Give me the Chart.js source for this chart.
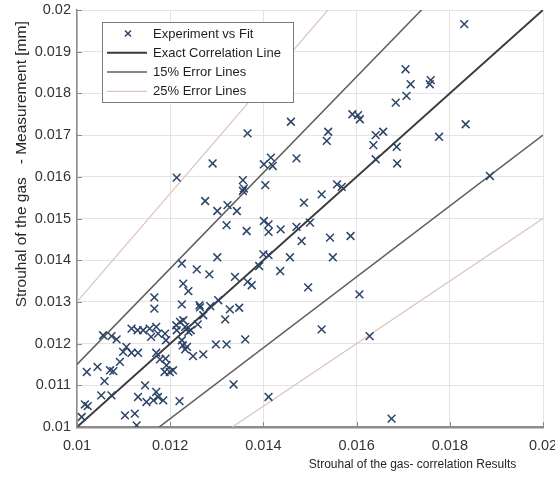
<!DOCTYPE html>
<html>
<head>
<meta charset="utf-8">
<script src="https://cdn.jsdelivr.net/npm/chart.js@4.4.1/dist/chart.umd.min.js"></script>
<style>
  html, body { margin: 0; padding: 0; background: #ffffff; }
  #wrap { width: 555px; height: 477px; }
</style>
</head>
<body>
<div id="wrap"><canvas id="chart" width="555" height="477"></canvas></div>
<script>
// Axis ticks and their labels
const xTicks = [0.010, 0.012, 0.014, 0.016, 0.018, 0.020];
const xTickLabels = ['0.01', '0.012', '0.014', '0.016', '0.018', '0.02'];
const yTicks = [0.010, 0.011, 0.012, 0.013, 0.014, 0.015, 0.016, 0.017, 0.018, 0.019, 0.020];
const yTickLabels = ['0.01', '0.011', '0.012', '0.013', '0.014', '0.015', '0.016', '0.017', '0.018', '0.019', '0.02'];

// Strouhal number: correlation result (x) vs. measurement (y)
const correlationSt = [
  0.01214, 0.01291, 0.01275, 0.01301, 0.01323, 0.01343, 0.01321, 0.01366, 0.01356, 0.01356,
  0.01358, 0.01364, 0.01459, 0.01471, 0.01401, 0.01416, 0.01420, 0.01404, 0.01401, 0.01411,
  0.01411, 0.01437, 0.01471, 0.01500, 0.01831, 0.01705, 0.01716, 0.01707, 0.01684, 0.01759,
  0.01757, 0.01591, 0.01603, 0.01607, 0.01539, 0.01536, 0.01834, 0.01777, 0.01641, 0.01657,
  0.01636, 0.01686, 0.01687, 0.01641, 0.01886, 0.01558, 0.01568, 0.01525, 0.01487, 0.01482,
  0.01543, 0.01587, 0.01400, 0.01411, 0.01457, 0.01549, 0.01436, 0.01496, 0.01606, 0.01525,
  0.01628, 0.01675, 0.01391, 0.01225, 0.01257, 0.01284, 0.01301, 0.01228, 0.01239, 0.01166,
  0.01166, 0.01225, 0.01263, 0.01264, 0.01286, 0.01303, 0.01271, 0.01259, 0.01318, 0.01328,
  0.01348, 0.01339, 0.01366, 0.01375, 0.01361, 0.01298, 0.01321, 0.01271, 0.01249, 0.01336,
  0.01411, 0.01213, 0.01221, 0.01228, 0.01232, 0.01244, 0.01239, 0.01214, 0.01225, 0.01227,
  0.01236, 0.01232, 0.01189, 0.01191, 0.01117, 0.01130, 0.01142, 0.01156, 0.01170, 0.01159,
  0.01174, 0.01056, 0.01074, 0.01085, 0.01106, 0.01099, 0.01117, 0.01131, 0.01092, 0.01170,
  0.01178, 0.01190, 0.01192, 0.01188, 0.01199, 0.01206, 0.01021, 0.01044, 0.01071, 0.01078,
  0.01059, 0.01146, 0.01052, 0.01074, 0.01131, 0.01149, 0.01170, 0.01174, 0.01185, 0.01164,
  0.01017, 0.01023, 0.01010, 0.01103, 0.01124, 0.01128, 0.01220
];
const measuredSt = [
  0.01598, 0.01632, 0.01542, 0.01518, 0.01532, 0.01518, 0.01484, 0.01704, 0.01592, 0.01566,
  0.01572, 0.01470, 0.01732, 0.01644, 0.01630, 0.01646, 0.01626, 0.01580, 0.01494, 0.01486,
  0.01468, 0.01474, 0.01480, 0.01490, 0.01966, 0.01858, 0.01822, 0.01794, 0.01778, 0.01832,
  0.01822, 0.01750, 0.01748, 0.01738, 0.01708, 0.01686, 0.01726, 0.01696, 0.01700, 0.01708,
  0.01676, 0.01672, 0.01632, 0.01642, 0.01602, 0.01582, 0.01576, 0.01558, 0.01538, 0.01446,
  0.01454, 0.01458, 0.01414, 0.01412, 0.01407, 0.01407, 0.01374, 0.01335, 0.01318, 0.01234,
  0.01218, 0.01020, 0.01386, 0.01392, 0.01378, 0.01366, 0.01407, 0.01344, 0.01326, 0.01311,
  0.01284, 0.01294, 0.01292, 0.01287, 0.01290, 0.01304, 0.01268, 0.01246, 0.01258, 0.01282,
  0.01286, 0.01360, 0.01348, 0.01340, 0.01210, 0.01198, 0.01198, 0.01174, 0.01170, 0.01102,
  0.01072, 0.01244, 0.01252, 0.01256, 0.01240, 0.01232, 0.01228, 0.01232, 0.01208, 0.01196,
  0.01192, 0.01186, 0.01224, 0.01208, 0.01236, 0.01232, 0.01232, 0.01236, 0.01240, 0.01216,
  0.01224, 0.01220, 0.01218, 0.01210, 0.01192, 0.01180, 0.01178, 0.01178, 0.01156, 0.01178,
  0.01162, 0.01164, 0.01148, 0.01132, 0.01132, 0.01136, 0.01132, 0.01144, 0.01136, 0.01134,
  0.01110, 0.01100, 0.01076, 0.01076, 0.01072, 0.01060, 0.01084, 0.01072, 0.01064, 0.01064,
  0.01054, 0.01050, 0.01024, 0.01028, 0.01032, 0.01004, 0.01062
];

// Reference lines: y = ratio * x
const exactRatio = 1.0;
const band15Ratios = [1.15, 0.85];
const band25Ratios = [1.30, 0.75];
const lineRange = [0.010, 0.020];

const seriesNames = ['Experiment vs Fit', 'Exact Correlation Line', '15% Error Lines', '25% Error Lines'];

const FONT = '"Liberation Sans", Arial, Helvetica, sans-serif';

function ratioLine(k) {
  return lineRange.map(x => ({ x: x, y: k * x }));
}

const points = correlationSt.map((x, i) => ({ x: x, y: measuredSt[i] }));

const datasets = [
  {
    label: seriesNames[0],
    data: points,
    showLine: false,
    pointStyle: 'crossRot',
    pointRadius: 5.5,
    pointBorderWidth: 1.5,
    borderColor: '#2c4468',
    backgroundColor: '#2c4468',
    order: 0
  },
  {
    label: seriesNames[1],
    data: ratioLine(exactRatio),
    showLine: true,
    pointRadius: 0,
    borderColor: '#3a3a3a',
    borderWidth: 2,
    order: 1
  }
];
band15Ratios.forEach(k => datasets.push({
  label: seriesNames[2],
  data: ratioLine(k),
  showLine: true,
  pointRadius: 0,
  borderColor: '#5e5e5e',
  borderWidth: 1.5,
  order: 2
}));
band25Ratios.forEach(k => datasets.push({
  label: seriesNames[3],
  data: ratioLine(k),
  showLine: true,
  pointRadius: 0,
  borderColor: '#dcc3bb',
  borderWidth: 1.2,
  order: 3
}));

// Axis titles, inner tick marks and the boxed legend
const decorations = {
  id: 'decorations',
  afterDraw(chart) {
    const ctx = chart.ctx;
    const area = chart.chartArea;
    const xs = chart.scales.x;
    const ys = chart.scales.y;

    ctx.save();
    // inward tick marks
    ctx.strokeStyle = '#8a8a8a';
    ctx.lineWidth = 1;
    xTicks.forEach(v => {
      const px = Math.round(xs.getPixelForValue(v)) + 0.5;
      ctx.beginPath();
      ctx.moveTo(px, area.bottom);
      ctx.lineTo(px, area.bottom - 5);
      ctx.stroke();
    });
    yTicks.forEach(v => {
      const py = Math.round(ys.getPixelForValue(v)) + 0.5;
      ctx.beginPath();
      ctx.moveTo(area.left, py);
      ctx.lineTo(area.left + 5, py);
      ctx.stroke();
    });

    // axis titles
    ctx.fillStyle = '#262626';
    ctx.textBaseline = 'middle';
    ctx.textAlign = 'center';
    ctx.font = '12px ' + FONT;
    ctx.fillText('Strouhal of the gas- correlation Results', area.left + (area.right - area.left) * 0.72, 465);

    ctx.save();
    ctx.translate(22, area.top + (area.bottom - area.top) * 0.37);
    ctx.rotate(-Math.PI / 2);
    ctx.font = '15.5px ' + FONT;
    ctx.fillText('Strouhal of the gas   - Measurement [mm]', 0, 0);
    ctx.restore();

    // legend
    const lx = area.left + 25, ly = area.top + 12, lw = 191, lh = 80;
    ctx.fillStyle = '#ffffff';
    ctx.fillRect(lx, ly, lw, lh);
    ctx.strokeStyle = '#7a7a7a';
    ctx.lineWidth = 1;
    ctx.strokeRect(lx + 0.5, ly + 0.5, lw, lh);

    const seen = [];
    const items = [];
    chart.data.datasets.forEach(ds => {
      if (seen.indexOf(ds.label) < 0) { seen.push(ds.label); items.push(ds); }
    });
    ctx.font = '13px ' + FONT;
    ctx.textAlign = 'left';
    items.forEach((ds, i) => {
      const cy = ly + 11.5 + i * 19.3;
      if (ds.showLine === false) {
        const cx = lx + 26, r = 3;
        ctx.strokeStyle = ds.borderColor;
        ctx.lineWidth = 1.5;
        ctx.beginPath();
        ctx.moveTo(cx - r, cy - r); ctx.lineTo(cx + r, cy + r);
        ctx.moveTo(cx + r, cy - r); ctx.lineTo(cx - r, cy + r);
        ctx.stroke();
      } else {
        ctx.strokeStyle = ds.borderColor;
        ctx.lineWidth = ds.borderWidth;
        ctx.beginPath();
        ctx.moveTo(lx + 5, cy);
        ctx.lineTo(lx + 45, cy);
        ctx.stroke();
      }
      ctx.fillStyle = '#1e1e1e';
      ctx.fillText(ds.label, lx + 51, cy + 0.5);
    });
    ctx.restore();
  }
};

new Chart(document.getElementById('chart'), {
  type: 'scatter',
  data: { datasets: datasets },
  plugins: [decorations],
  options: {
    responsive: false,
    animation: false,
    devicePixelRatio: 1,
    layout: { padding: { top: 10, right: 12, left: 0, bottom: 0 } },
    plugins: {
      legend: { display: false },
      tooltip: { enabled: false }
    },
    scales: {
      x: {
        type: 'linear',
        min: 0.01,
        max: 0.02,
        afterBuildTicks: s => { s.ticks = xTicks.map(v => ({ value: v })); },
        afterFit: s => { s.height = 50; s.paddingLeft = 0; s.paddingRight = 0; },
        ticks: {
          autoSkip: false,
          maxRotation: 0,
          padding: 10,
          color: '#333333',
          font: { family: FONT, size: 14.5 },
          callback: (v, i) => xTickLabels[i]
        },
        grid: { color: '#e4e4e4', lineWidth: 1, drawTicks: false },
        border: { color: '#8c8c8c', width: 2.5 }
      },
      y: {
        type: 'linear',
        min: 0.01,
        max: 0.02,
        afterBuildTicks: s => { s.ticks = yTicks.map(v => ({ value: v })); },
        afterFit: s => { s.width = 77; s.paddingTop = 0; s.paddingBottom = 0; },
        ticks: {
          autoSkip: false,
          padding: 6,
          color: '#333333',
          font: { family: FONT, size: 14.5 },
          callback: (v, i) => yTickLabels[i]
        },
        grid: { color: '#e4e4e4', lineWidth: 1, drawTicks: false },
        border: { color: '#8c8c8c', width: 1.5 }
      }
    }
  }
});
</script>
</body>
</html>
